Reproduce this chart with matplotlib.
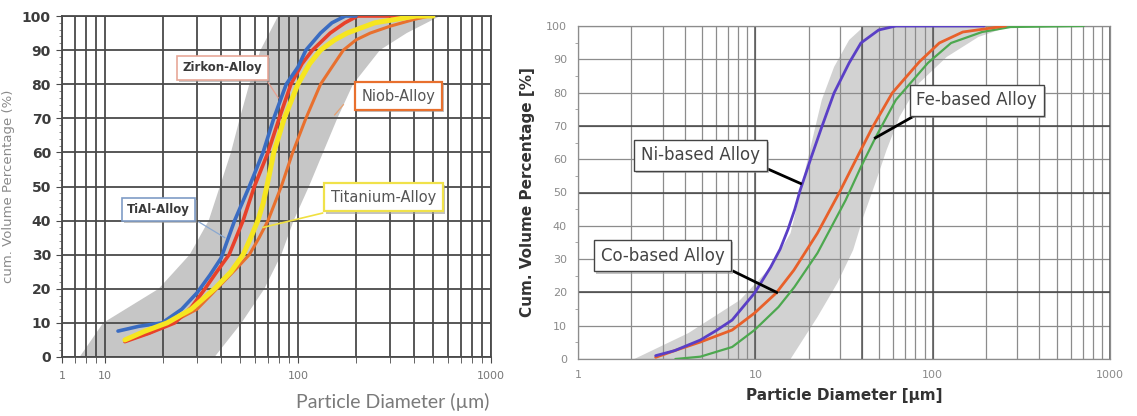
import matplotlib
matplotlib.use("Agg")
import matplotlib.pyplot as plt
import matplotlib.patheffects as pe
import numpy as np

# ---------------- Left chart data ----------------
tial_d = [11.7, 15, 19.8, 25, 30, 35, 40, 47, 56, 66, 75, 87, 100, 110, 131, 150, 176, 200]
tial_p = [7.6, 9, 10, 14, 18.8, 24, 29, 40, 50, 60, 70, 80, 85, 90, 95, 98, 100, 100]

zirk_d = [12.7, 17, 23, 28, 33, 38, 44, 52, 59.5, 70, 80, 92, 105, 119, 147, 175, 204, 300, 480]
zirk_p = [4.5, 7, 10, 14.5, 20, 25, 30, 40, 50, 60, 70, 80, 86, 90, 95, 98, 100, 100, 100]

titan_d = [12.7, 16, 21, 28, 37, 45, 52, 57, 62, 66, 69, 72, 75, 85, 100, 115, 131, 155, 180, 250, 410, 500]
titan_p = [5, 7.5, 10, 14, 20, 25, 30, 35, 40, 45, 50, 55, 60, 70, 80, 86, 90, 93, 95, 98, 100, 100]

niob_d = [13, 17, 22, 30, 38, 50, 56, 63, 70, 82, 94, 110, 131, 150, 172, 200, 237, 300, 400, 480]
niob_p = [5, 7, 10, 14, 20, 27, 30, 35, 40, 50, 60, 70, 80, 85, 90, 93, 95, 97, 99, 100]

bandL_lo_d = [7.4, 9.8, 19, 27.5, 34.5, 39.4, 45, 50, 56, 64, 79]
bandL_lo_p = [0, 10, 20, 30, 40, 50, 60, 70, 80, 90, 100]
bandL_hi_d = [37, 51, 67, 82, 95, 114, 135, 160, 193, 266, 366, 545]
bandL_hi_p = [0, 10, 20, 30, 40, 50, 60, 70, 80, 90, 95, 100]

left_xticks = [6, 10, 100, 1000]
left_xticklabels = ["1", "10", "100", "1000"]
left_yticks = list(range(0, 101, 10))

# ---------------- Right chart data ----------------
ni_d = [2.74, 3.5, 4.9, 6, 7.4, 9.9, 12.2, 13.8, 15.3, 16.7, 17.9, 20.7, 23.7, 27.8, 33.8, 39.4, 49.6, 62, 100, 195]
ni_p = [1, 2.5, 5.7, 8.5, 11.7, 19.8, 27.6, 33, 39, 45, 50.7, 60.7, 69.7, 79.9, 88.9, 94.9, 98.8, 100, 100, 100]

co_d = [2.74, 3.5, 4.9, 7.4, 9.9, 13.1, 16.5, 22.4, 29.9, 37.6, 45.9, 59.2, 84.3, 109, 148, 258]
co_p = [0.5, 2.5, 5.1, 8.7, 13.8, 19.8, 26.7, 37.8, 50.2, 60.7, 69.7, 79.9, 89.3, 94.9, 98.2, 100]

fe_d = [3.54, 4.9, 7.4, 9.9, 13.5, 16.6, 22.4, 32.3, 39.4, 47.5, 62, 94, 127, 190, 275, 711]
fe_p = [0, 0.7, 3.6, 8.7, 15.6, 21.6, 31.8, 47.7, 57.7, 66.4, 77.8, 88.9, 94.9, 98.2, 99.7, 100]

bandR_lo_d = [2.08, 4.2, 8.2, 12.2, 15.8, 17.5, 19.3, 21.4, 23.7, 27.8, 33.8, 41.2]
bandR_lo_p = [0, 7.8, 17.7, 27.6, 37.8, 47.7, 57.7, 67.9, 77.8, 87.7, 95.8, 100]
bandR_hi_d = [15.8, 22.4, 29, 35.6, 40.6, 47.5, 55, 65, 84, 120, 181, 275]
bandR_hi_p = [0, 12.6, 22.8, 32.7, 42.6, 52.8, 62.8, 72.7, 82.9, 90.7, 96.7, 100]

right_xticks = [1, 10, 100, 1000]
right_xticklabels = ["1", "10", "100", "1000"]
right_yticks = list(range(0, 101, 10))

# ---------------- Figure ----------------
fig = plt.figure(figsize=(11.37, 4.16), dpi=100)
fig.patch.set_facecolor("white")

W, H = 1137, 416
def axpos(x0, x1, y0, y1):
    return [x0 / W, 1 - y1 / H, (x1 - x0) / W, (y1 - y0) / H]

# ======== LEFT ========
ax1 = fig.add_axes(axpos(62, 491, 16, 357))
ax1.set_xscale("log")
ax1.set_xlim(6, 1000)
ax1.set_ylim(0, 100)

band_x = np.concatenate([bandL_lo_d, bandL_hi_d[::-1]])
band_y = np.concatenate([bandL_lo_p, bandL_hi_p[::-1]])
ax1.fill(band_x, band_y, color="#c6c6c6", lw=0, zorder=1)

ax1.set_xticks(left_xticks)
ax1.set_xticklabels(left_xticklabels)
minors = [7, 8, 9] + list(range(20, 100, 10)) + list(range(200, 1000, 100))
ax1.set_xticks(minors, minor=True)
ax1.set_xticklabels([], minor=True)
ax1.set_yticks(left_yticks)
ax1.set_yticks(list(range(0, 101, 2)), minor=True)
ax1.grid(True, which="both", axis="x", color="#4a4a4a", lw=1.3, zorder=2)
ax1.grid(True, which="major", axis="y", color="#4a4a4a", lw=1.3, zorder=2)
for s in ax1.spines.values():
    s.set_color("#4a4a4a")
    s.set_linewidth(1.3)
ax1.tick_params(axis="x", which="both", direction="out", length=4, color="#4a4a4a",
                labelsize=8, labelcolor="#777777", pad=6)
ax1.tick_params(axis="y", which="major", direction="out", length=4, color="#4a4a4a",
                labelsize=10, labelcolor="#3c3c3c", pad=4)
ax1.tick_params(axis="y", which="minor", direction="out", length=2, color="#777777")
for t in ax1.get_yticklabels():
    t.set_fontweight("bold")

ax1.plot(niob_d, niob_p, color="#e8702e", lw=2.2, zorder=4, solid_capstyle="round")
ax1.plot(zirk_d, zirk_p, color="#e8412a", lw=2.6, zorder=5, solid_capstyle="round")
ax1.plot(tial_d, tial_p, color="#3a6cc2", lw=2.6, zorder=5, solid_capstyle="round")
ax1.plot(titan_d, titan_p, color="#f6e620", lw=3.6, zorder=6, solid_capstyle="round")

ax1.set_xlabel("Particle Diameter (µm)", fontsize=14, color="#7a7a7a", fontfamily="Lato")
ax1.xaxis.set_label_coords(0.77, -0.105)
ax1.set_ylabel("cum. Volume Percentage (%)", fontsize=9.5, color="#8a8a8a")
ax1.yaxis.set_label_coords(-0.11, 0.5)

shadow = [pe.withSimplePatchShadow(offset=(1.5, -1.5), shadow_rgbFace="#9a9a9a", alpha=0.6)]

def lbl(ax, x, y, text, ec, size, weight, color, lw=1.2):
    t = ax.text(x, y, text, ha="center", va="center", fontsize=size, fontweight=weight,
                color=color, zorder=10,
                bbox=dict(boxstyle="square,pad=0.45", fc="white", ec=ec, lw=lw))
    t.get_bbox_patch().set_path_effects(shadow)
    return t

# leaders (left)
ax1.plot([70, 79], [80.6, 76], color="#e8a090", lw=0.9, zorder=7)
ax1.plot([30.7, 41.8], [39.6, 35], color="#8aa8d0", lw=0.9, zorder=7)
ax1.plot([134, 66], [42.2, 38], color="#f0e040", lw=1.2, zorder=7)
ax1.plot([172, 155], [74, 71], color="#e8a070", lw=0.9, zorder=7)

lbl(ax1, 40.7, 84.8, "Zirkon-Alloy", "#e8a898", 8.5, "bold", "#3a3a3a")
lbl(ax1, 19.0, 43.3, "TiAl-Alloy", "#7f9cc6", 8.5, "bold", "#3a3a3a")
lbl(ax1, 333, 76.5, "Niob-Alloy", "#e8702e", 10.5, "normal", "#555555", lw=1.6)
lbl(ax1, 277, 46.8, "Titanium-Alloy", "#f0e24a", 10.5, "normal", "#555555", lw=1.6)

# ======== RIGHT ========
ax2 = fig.add_axes(axpos(578, 1110, 26, 359))
ax2.set_xscale("log")
ax2.set_xlim(1, 1000)
ax2.set_ylim(0, 100)

band_x = np.concatenate([bandR_lo_d, bandR_hi_d[::-1]])
band_y = np.concatenate([bandR_lo_p, bandR_hi_p[::-1]])
ax2.fill(band_x, band_y, color="#d2d2d2", lw=0, zorder=1)

ax2.set_xticks(right_xticks)
ax2.set_xticklabels(right_xticklabels)
rminors = list(range(2, 10)) + list(range(20, 100, 10)) + list(range(200, 1000, 100))
ax2.set_xticks(rminors, minor=True)
ax2.set_xticklabels([], minor=True)
ax2.set_yticks(right_yticks)
ax2.set_yticks(list(range(5, 100, 10)), minor=True)
ax2.grid(True, which="both", axis="x", color="#8c8c8c", lw=0.9, zorder=2)
ax2.grid(True, which="major", axis="y", color="#8c8c8c", lw=0.9, zorder=2)
for v in [10, 40, 100, 1000]:
    ax2.axvline(v, color="#555555", lw=1.1, zorder=2)
for v in [20, 50, 70]:
    ax2.axhline(v, color="#444444", lw=1.1, zorder=2)
for s in ax2.spines.values():
    s.set_color("#8c8c8c")
    s.set_linewidth(0.9)
ax2.tick_params(axis="both", which="major", length=0, labelsize=8, labelcolor="#8a8a8a", pad=8)
ax2.tick_params(axis="both", which="minor", length=0)
ax2.tick_params(axis="y", which="minor", direction="out", length=2, color="#999999")

ax2.plot(fe_d, fe_p, color="#4da84f", lw=1.6, zorder=4, solid_capstyle="round")
ax2.plot(co_d, co_p, color="#e8602a", lw=2.0, zorder=5, solid_capstyle="round")
ax2.plot(ni_d, ni_p, color="#5a3fc6", lw=2.0, zorder=6, solid_capstyle="round")

ax2.set_xlabel("Particle Diameter [µm]", fontsize=11, fontweight="bold", color="#333333", labelpad=6)
ax2.set_ylabel("Cum. Volume Percentage [%]", fontsize=11, fontweight="bold", color="#333333", labelpad=8)

# leaders (right)
ax2.plot([80.5, 47.5], [73.3, 66.4], color="black", lw=2, zorder=7)
ax2.plot([11.6, 18.0], [57.2, 52.7], color="black", lw=2, zorder=7)
ax2.plot([7.56, 13.2], [26.3, 20.0], color="black", lw=2, zorder=7)

def lbl2(ax, x, y, text):
    t = ax.text(x, y, text, ha="center", va="center", fontsize=12, color="#444444", zorder=10,
                bbox=dict(boxstyle="square,pad=0.4", fc="white", ec="#444444", lw=1.0))
    t.get_bbox_patch().set_path_effects(shadow)
    return t

lbl2(ax2, 177, 77.7, "Fe-based Alloy")
lbl2(ax2, 4.9, 61.2, "Ni-based Alloy")
lbl2(ax2, 3.0, 31.0, "Co-based Alloy")

fig.savefig("out.png", dpi=100, facecolor="white")
